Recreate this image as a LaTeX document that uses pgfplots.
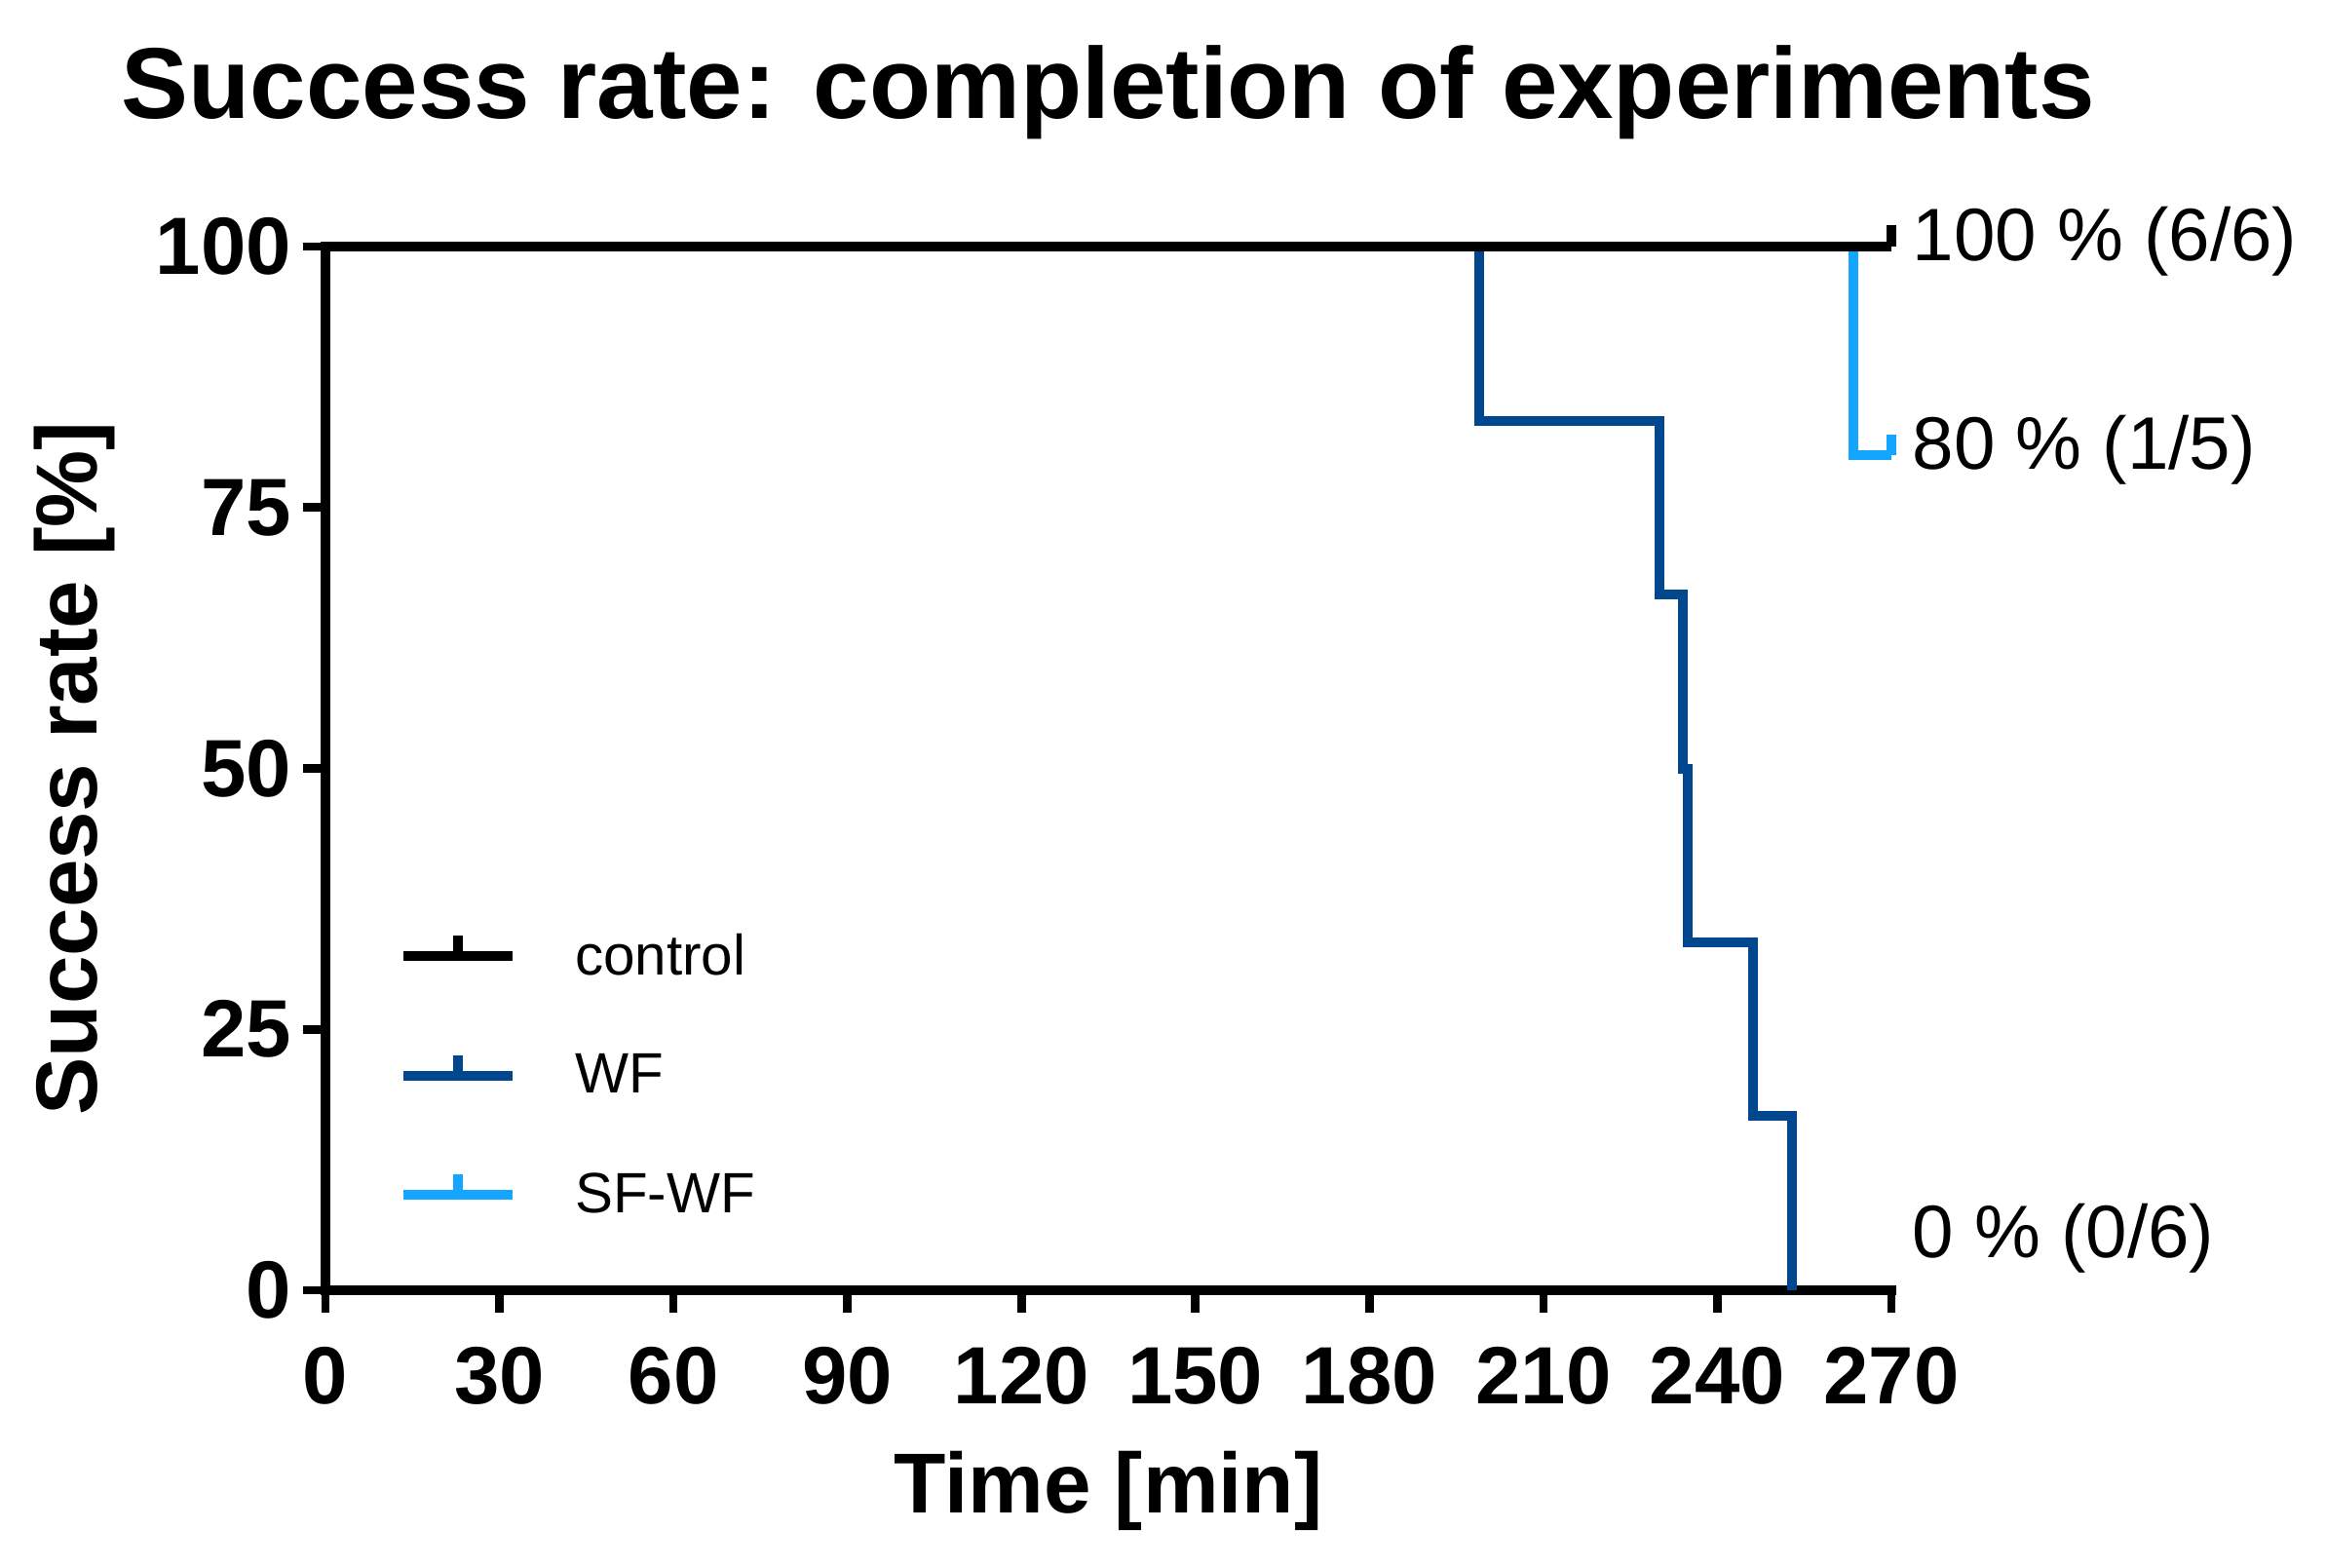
\documentclass[border=0pt]{standalone}
\usepackage{pgfplots}
\pgfplotsset{compat=1.18}
\usepackage{fontspec}
\setmainfont{Liberation Sans}

\definecolor{wfblue}{RGB}{0,71,141}
\definecolor{sfblue}{RGB}{20,166,255}

% censor mark: short upward tick
\pgfdeclareplotmark{cens}{%
  \pgfpathmoveto{\pgfqpoint{0pt}{0pt}}%
  \pgfpathlineto{\pgfqpoint{0pt}{6.5pt}}%
  \pgfusepathqstroke}

\begin{document}
\begin{tikzpicture}
\useasboundingbox (-100.2pt,-85.2pt) rectangle (615.9pt,397.2pt);
\begin{axis}[
    at={(0pt,0pt)}, anchor=south west,
    width=482.1pt, height=321.3pt, scale only axis,
    xmin=0, xmax=270, ymin=0, ymax=100,
    clip=false,
    axis lines=left,
    axis line style={line width=3pt, -, line cap=rect},
    xtick={0,30,...,270}, ytick={0,25,...,100},
    tick align=outside,
    major tick length=7pt,
    tick style={line width=2.6pt, black},
    /pgf/number format/assume math mode=true,
    ticklabel style={font=\fontsize{25}{25}\selectfont\bfseries},
    xticklabel style={yshift=-7pt},
    xlabel={Time [min]},
    ylabel={Success rate [\%]},
    xlabel style={font=\fontsize{26.2}{26.2}\selectfont\bfseries,
        at={(axis description cs:0.5,-0.192)}, anchor=center},
    ylabel style={font=\fontsize{26.7}{26.7}\selectfont\bfseries,
        at={(axis description cs:-0.16,0.5)}, anchor=center},
    every axis plot/.append style={line width=3pt, line join=miter, line cap=butt},
    legend style={
        at={(axis description cs:0.04,0.355)}, anchor=north west,
        draw=none, fill=none,
        font=\fontsize{17.5}{17.5}\selectfont,
        row sep=19pt, column sep=15.8pt,
        cells={anchor=west},
    },
    legend image code/.code={
        \draw[#1] (0pt,0pt) -- (33.6pt,0pt);
        \draw[#1] (16.8pt,0pt) -- (16.8pt,6.5pt);
    },
]
% legend entries in the reference order
\addlegendimage{black}
\addlegendentry{control}
\addlegendimage{wfblue}
\addlegendentry{WF}
\addlegendimage{sfblue}
\addlegendentry{SF-WF}

% SF-WF
\addplot[sfblue, const plot, mark=cens, mark indices={3}, forget plot] coordinates {
    (0,100)
    (263.5,80)
    (270,80)
};
% WF
\addplot[wfblue, const plot, forget plot] coordinates {
    (0,100)
    (199,83.33)
    (230,66.67)
    (234.1,50)
    (234.9,33.33)
    (246.1,16.67)
    (252.9,0)
};
% control
\addplot[black, mark=cens, mark indices={2}, forget plot] coordinates {
    (0,100)
    (270,100)
};

\node[anchor=base west, font=\fontsize{22.9}{22.9}\selectfont, xshift=3pt, yshift=-4.5pt]
    at (axis cs:270,100) {100 \% (6/6)};
\node[anchor=base west, font=\fontsize{22.9}{22.9}\selectfont, xshift=3pt, yshift=-4.2pt]
    at (axis cs:270,80) {80 \% (1/5)};
\node[anchor=base west, font=\fontsize{22.9}{22.9}\selectfont, xshift=3pt, yshift=10pt]
    at (axis cs:270,0) {0 \% (0/6)};
\end{axis}
\node[anchor=base, font=\fontsize{31}{31}\selectfont\bfseries] at (241pt,360.6pt)
    {Success rate: completion of experiments};
\end{tikzpicture}
\end{document}
